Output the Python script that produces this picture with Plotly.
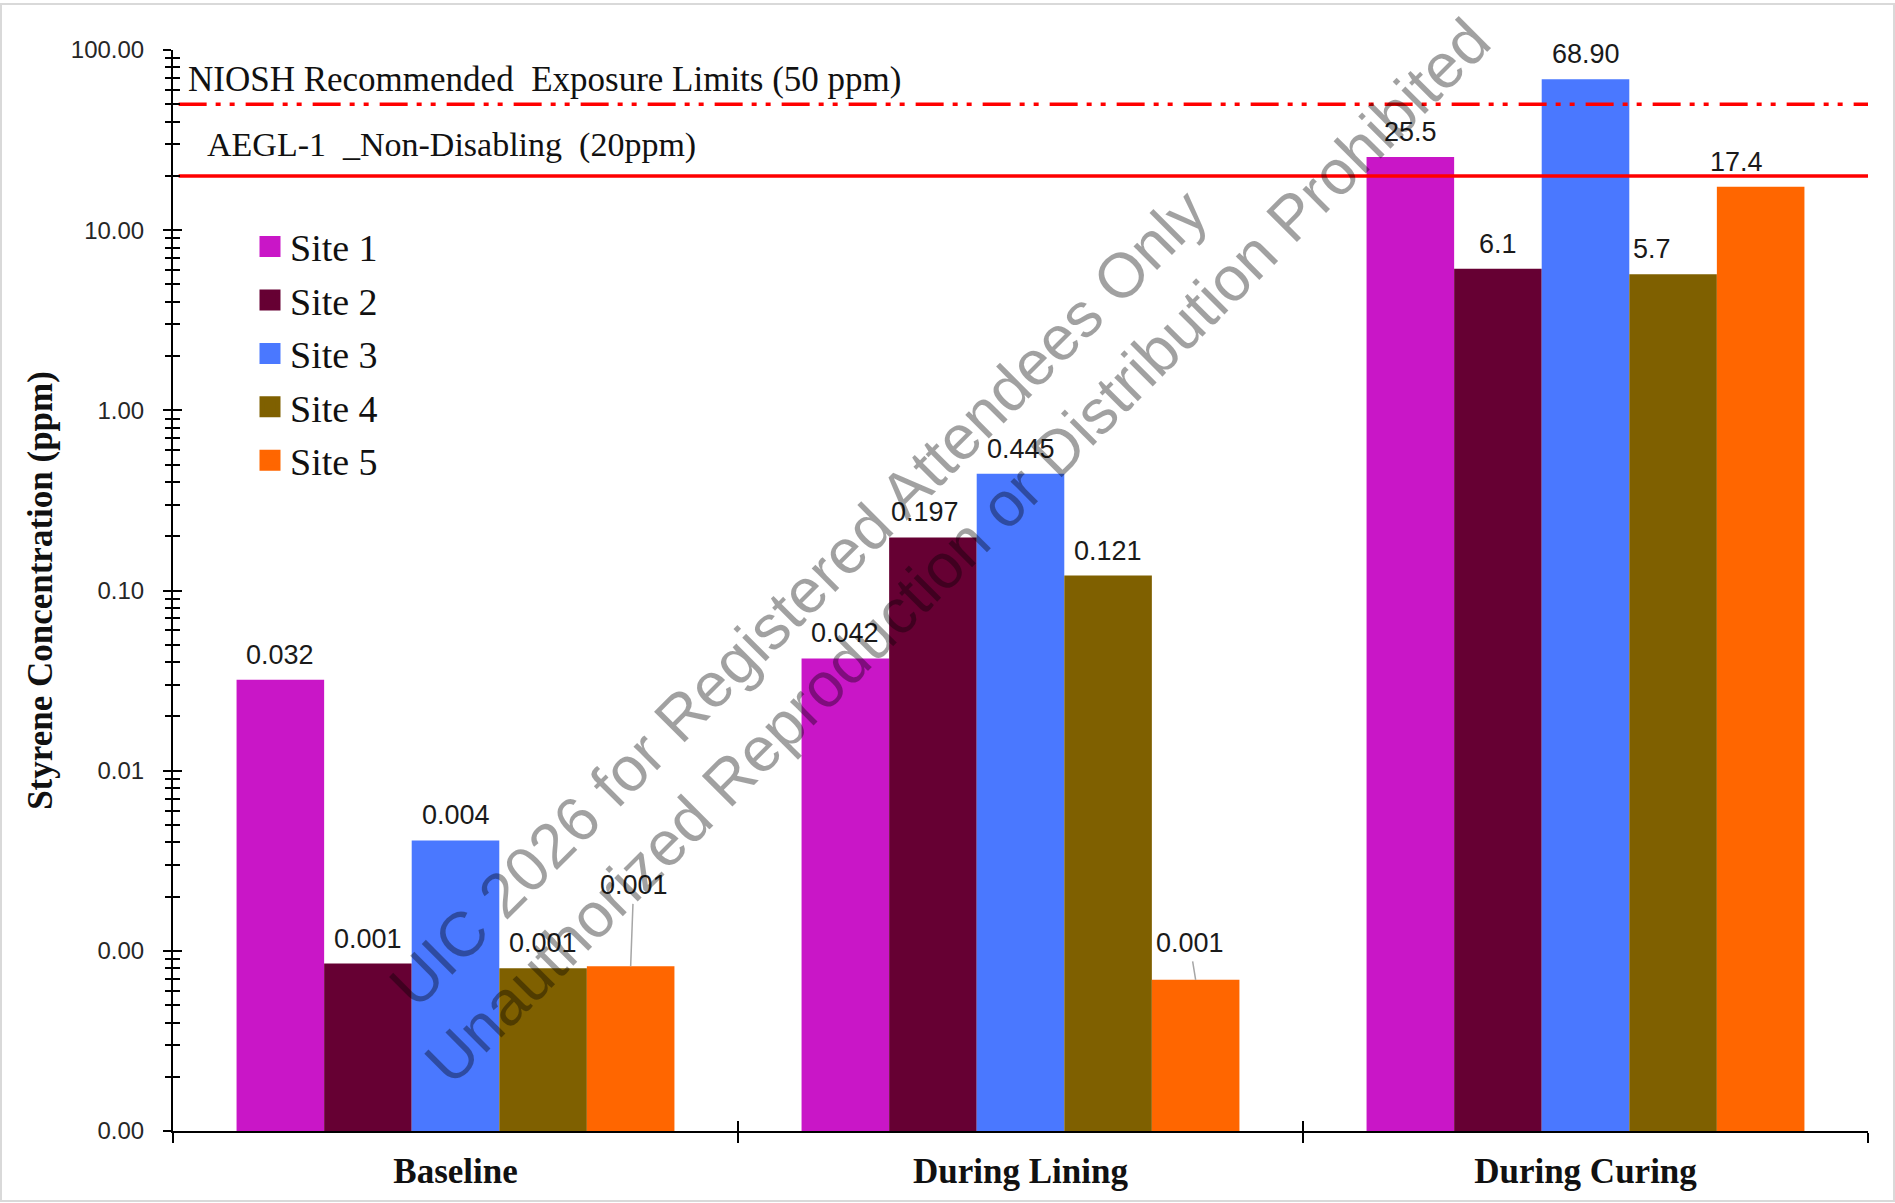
import math
import plotly.graph_objects as go

# ---- data -------------------------------------------------------------
phases = ["Baseline", "During Lining", "During Curing"]
sites = ["Site 1", "Site 2", "Site 3", "Site 4", "Site 5"]

site1 = [0.032, 0.042, 25.5]
site2 = [0.00085, 0.197, 6.1]
site3 = [0.0041, 0.445, 68.9]
site4 = [0.00080, 0.121, 5.7]
site5 = [0.00082, 0.00069, 17.4]

# decimals shown in each data label (per site, per phase)
label_decimals = [
    [3, 3, 1],
    [3, 3, 1],
    [3, 3, 2],
    [3, 3, 1],
    [3, 3, 1],
]

limit_values = [50, 20]
limit_labels = [
    "NIOSH Recommended\u00a0 Exposure Limits (50 ppm)",
    "AEGL-1\u00a0 _Non-Disabling\u00a0 (20ppm)",
]

tick_values = [1e-4, 1e-3, 1e-2, 1e-1, 1, 10, 100]
tick_labels = ["0.00", "0.00", "0.01", "0.10", "1.00", "10.00", "100.00"]

y_title = "Styrene Concentration (ppm)"
watermark_lines = [
    "UIC 2026 for Registered Attendees Only",
    "Unauthorized Reproduction or Distribution Prohibited",
]

# ---- styling ----------------------------------------------------------
colors = ["#C916C7", "#660033", "#4A78FF", "#7F6000", "#FF6600"]
W, H = 1895, 1203
M_L, M_R, M_T, M_B = 173, 27, 50, 72
BARGAP = 0.225
plot_w = W - M_L - M_R
plot_h = H - M_T - M_B
bar_px = plot_w / len(phases) * (1 - BARGAP) / len(sites)

SANS = "Liberation Sans"
SERIF = "Liberation Serif"

series = [site1, site2, site3, site4, site5]

fig = go.Figure()

for name, vals, col in zip(sites, series, colors):
    fig.add_trace(go.Bar(
        name=name, x=phases, y=vals,
        marker=dict(color=col, line=dict(width=0)),
        showlegend=False, hoverinfo="x+y",
    ))

# legend swatches
for name, col in zip(sites, colors):
    fig.add_trace(go.Scatter(
        name=name, x=[None], y=[None], mode="markers",
        marker=dict(symbol="square", size=16, color=col,
                    line=dict(color=col, width=5)),
        legendgroup=name, showlegend=True,
    ))

# exposure limit lines (overlay axes share the same scales)
limit_dash = ["28px,9px,5px,9px,5px,11px", "solid"]
for val, dash in zip(limit_values, limit_dash):
    fig.add_trace(go.Scatter(
        x=[-0.49, 2.5], y=[val, val], mode="lines",
        line=dict(color="#FF0000", width=3.5, dash=dash),
        xaxis="x2", yaxis="y2", showlegend=False, hoverinfo="skip",
    ))

annotations = []

# data labels above the bars
label_nudge = {(1, 1): -8, (3, 2): -21, (4, 2): -24}
callouts = {(4, 0): (3, -81), (4, 1): (-6, -37)}
for si, vals in enumerate(series):
    for pi, v in enumerate(vals):
        txt = f"{v:.{label_decimals[si][pi]}f}"
        xshift = (si - (len(sites) - 1) / 2) * bar_px
        base = dict(
            x=phases[pi], y=math.log10(v), xref="x", yref="y",
            text=txt, font=dict(family=SANS, size=27, color="#1a1a1a"),
        )
        if (si, pi) in callouts:
            ax, ay = callouts[(si, pi)]
            annotations.append(dict(
                **base, xshift=xshift, showarrow=True, ax=ax, ay=ay,
                arrowhead=0, arrowwidth=1.5, arrowcolor="#A6A6A6",
                standoff=0, startstandoff=2,
            ))
        else:
            annotations.append(dict(
                **base, xshift=xshift + label_nudge.get((si, pi), 0),
                yshift=8, showarrow=False, yanchor="bottom",
            ))

# limit captions
limit_caption_pos = [(186, 80), (205, 145)]
limit_caption_size = [35, 34]
for txt, (px, py), fs in zip(limit_labels, limit_caption_pos,
                             limit_caption_size):
    annotations.append(dict(
        x=(px - M_L) / plot_w, y=(H - M_B - py) / plot_h,
        xref="paper", yref="paper", xanchor="left", yanchor="middle",
        text=txt, showarrow=False,
        font=dict(family=SERIF, size=fs, color="#111111"),
    ))

# diagonal watermark
wm_centers = [(798, 598), (957, 551)]
for txt, (px, py) in zip(watermark_lines, wm_centers):
    annotations.append(dict(
        x=(px - M_L) / plot_w, y=(H - M_B - py) / plot_h,
        xref="paper", yref="paper", xanchor="center", yanchor="middle",
        text=txt, textangle=-45, showarrow=False,
        font=dict(family=SANS, size=63, color="rgba(0,0,0,0.37)"),
    ))

# light frame around the whole chart
frame = dict(
    type="rect", xref="paper", yref="paper",
    x0=(1 - M_L) / plot_w, x1=(W - 1 - M_L) / plot_w,
    y0=(H - M_B - (H - 2)) / plot_h, y1=(H - M_B - 4) / plot_h,
    line=dict(color="#D9D9D9", width=2), fillcolor="rgba(0,0,0,0)",
    layer="below",
)

fig.update_layout(
    width=W, height=H,
    margin=dict(l=M_L, r=M_R, t=M_T, b=M_B, pad=0),
    paper_bgcolor="white", plot_bgcolor="white",
    barmode="group", bargap=BARGAP, bargroupgap=0,
    showlegend=True,
    legend=dict(
        x=(250 - M_L) / plot_w, y=0.847, xanchor="left", yanchor="top",
        font=dict(family=SERIF, size=38, color="#111111"),
        bgcolor="rgba(0,0,0,0)", tracegroupgap=1, itemsizing="trace",
        traceorder="grouped",
    ),
    xaxis=dict(
        type="category", categoryorder="array", categoryarray=phases,
        range=[-0.5, 2.5],
        showline=True, linecolor="black", linewidth=2,
        ticks="outside", tickson="boundaries", ticklen=10, tickwidth=2,
        tickcolor="black", showgrid=False, zeroline=False,
        tickfont=dict(family=SERIF, size=35, color="#111111", weight="bold"),
        ticklabelstandoff=8,
    ),
    xaxis2=dict(
        overlaying="x", anchor="y", range=[-0.5, 2.5],
        tickmode="array", tickvals=[-0.5, 0.5, 1.5, 2.5],
        ticks="inside", ticklen=10, tickwidth=2, tickcolor="black",
        showticklabels=False, showline=False, showgrid=False, zeroline=False,
    ),
    yaxis=dict(
        type="log", range=[-4, 2],
        tickmode="array", tickvals=tick_values, ticktext=tick_labels,
        showline=True, linecolor="black", linewidth=2,
        ticks="outside", ticklen=8, tickwidth=2, tickcolor="black",
        minor=dict(dtick="D1", ticks="outside", ticklen=6, tickwidth=1.5,
                   tickcolor="black", showgrid=False),
        showgrid=False, zeroline=False,
        tickfont=dict(family=SANS, size=24, color="#262626"),
        ticklabelstandoff=14,
        title=dict(text=y_title, standoff=8,
                   font=dict(family=SERIF, size=35, color="#111111",
                             weight="bold")),
    ),
    yaxis2=dict(
        type="log", range=[-4, 2], overlaying="y", anchor="x", side="left",
        tickmode="array", tickvals=tick_values,
        ticks="inside", ticklen=9, tickwidth=2, tickcolor="black",
        minor=dict(dtick="D1", ticks="inside", ticklen=7, tickwidth=1.5,
                   tickcolor="black", showgrid=False),
        showticklabels=False, showline=False, showgrid=False, zeroline=False,
    ),
    annotations=annotations,
    shapes=[frame],
)

fig.write_html("out.html")
